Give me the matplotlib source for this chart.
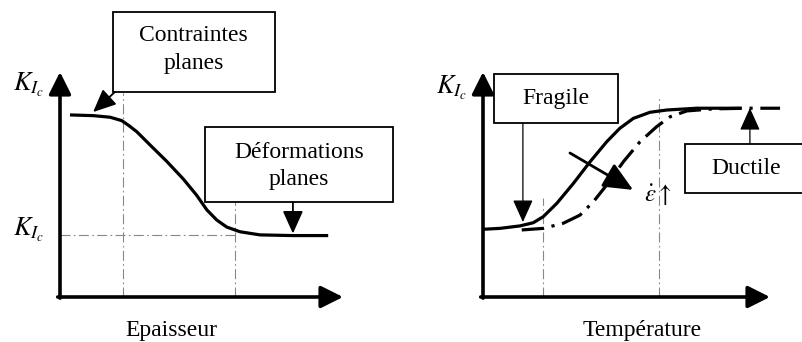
import matplotlib
matplotlib.use("Agg")
import matplotlib.pyplot as plt
from matplotlib.patches import Rectangle

plt.rcParams["font.family"] = ["Liberation Serif", "DejaVu Serif"]
plt.rcParams["mathtext.fontset"] = "stix"

# Left panel: K_Ic vs thickness (schematic, axis units 0-10)
thick_x = [0.41, 1.18, 1.77, 2.18, 2.41, 2.71, 3.18, 3.77, 4.36, 4.83, 5.19,
           5.54, 5.89, 6.36, 7.07, 8.24, 9.42]
kic_thick = [8.09, 8.06, 7.99, 7.84, 7.64, 7.35, 6.76, 6.03, 5.24, 4.52, 3.87,
             3.42, 3.11, 2.90, 2.76, 2.73, 2.73]
thick_marks = [2.23, 6.18]        # vertical guide lines
kic_plane = 2.76                  # plane-strain K_Ic level

# Right panel: K_Ic vs temperature (slow and fast strain rate)
temp_x = [0.0, 0.59, 1.29, 1.75, 2.10, 2.57, 3.15, 3.73, 4.31, 4.77, 5.24,
          5.82, 6.40, 7.45, 8.95]
kic_temp = [3.01, 3.05, 3.16, 3.30, 3.57, 4.16, 5.05, 6.01, 6.90, 7.50, 7.94,
            8.21, 8.31, 8.39, 8.39]
temp_x_fast = [1.35, 2.10, 2.80, 3.38, 3.85, 4.31, 4.89, 5.47, 6.05, 6.52,
               7.10, 8.02, 9.19, 10.35]
kic_temp_fast = [2.98, 3.05, 3.28, 3.64, 4.24, 4.98, 6.01, 6.90, 7.57, 8.01,
                 8.27, 8.36, 8.39, 8.39]
temp_marks = [2.09, 6.13]
temp_marks_top = [4.4, 8.84]

W, H = 802, 342
fig = plt.figure(figsize=(W / 100, H / 100), dpi=100)


def make_ax(x0, x1, ytop, ybot):
    ax = fig.add_axes([x0 / W, 1 - ybot / H, (x1 - x0) / W, (ybot - ytop) / H])
    ax.set_xlim(0, 10)
    ax.set_ylim(0, 10)
    ax.axis("off")
    return ax


def axes_arrows(ax):
    kw = dict(arrowstyle="-|>,head_length=0.9,head_width=0.45", lw=2.6, color="black",
              shrinkA=0, shrinkB=0, mutation_scale=15)
    ax.annotate("", xy=(10, 0), xytext=(-0.08, 0), arrowprops=kw, annotation_clip=False)
    ax.annotate("", xy=(0, 10), xytext=(0, -0.05), arrowprops=kw, annotation_clip=False)


def box(ax, x0, y0, x1, y1):
    ax.add_patch(Rectangle((x0, y0), x1 - x0, y1 - y0, facecolor="white",
                           edgecolor="black", lw=1.3, clip_on=False, zorder=3))


def pointer(ax, start, end, lw=1.0, scale=14):
    ax.annotate("", xy=end, xytext=start, annotation_clip=False, zorder=4,
                arrowprops=dict(arrowstyle="-|>,head_length=1.0,head_width=0.45",
                                lw=lw, color="black", shrinkA=0, shrinkB=0,
                                mutation_scale=scale))


guide = dict(color="#888888", lw=0.8, linestyle=(0, (9, 3, 1.5, 3)), zorder=1)
curve = dict(color="black", lw=2.3, solid_joinstyle="round", dash_joinstyle="round",
             zorder=2)
fs = 17

# ---- left panel ----
axl = make_ax(60, 343, 72, 297)
axes_arrows(axl)
axl.plot([thick_marks[0]] * 2, [0, 9.07], **guide)
axl.plot([thick_marks[1]] * 2, [0, 4.22], **guide)
axl.plot([0, thick_marks[1]], [kic_plane] * 2, **guide)
axl.plot(thick_x, kic_thick, **curve)

box(axl, 1.87, 9.11, 7.60, 12.67)
axl.text(4.73, 11.64, "Contraintes", ha="center", va="center", fontsize=fs, zorder=5)
axl.text(4.73, 10.40, "planes", ha="center", va="center", fontsize=fs, zorder=5)
pointer(axl, (1.94, 9.11), (1.17, 8.22), lw=1.3)

box(axl, 5.12, 4.22, 11.77, 7.56)
axl.text(8.45, 6.44, "Déformations", ha="center", va="center", fontsize=fs, zorder=5)
axl.text(8.45, 5.20, "planes", ha="center", va="center", fontsize=fs, zorder=5)
pointer(axl, (8.23, 4.22), (8.23, 2.82), lw=1.3)

axl.text(-1.10, 9.42, r"$K_{I_c}$", ha="center", va="center", fontsize=19)
axl.text(-1.10, 2.98, r"$K_{I_c}$", ha="center", va="center", fontsize=19)
axl.text(3.92, -1.47, "Epaisseur", ha="center", va="center", fontsize=fs)

# ---- right panel ----
axr = make_ax(483, 770, 72, 297)
axes_arrows(axr)
for xm, yt in zip(temp_marks, temp_marks_top):
    axr.plot([xm, xm], [0, yt], **guide)
axr.plot(temp_x, kic_temp, **curve)
axr.plot(temp_x_fast, kic_temp_fast, linestyle=(0, (7, 2.4, 1, 2.4)),
         clip_on=False, **curve)

box(axr, 0.38, 7.73, 4.70, 9.91)
axr.text(2.54, 8.82, "Fragile", ha="center", va="center", fontsize=fs, zorder=5)
pointer(axr, (1.39, 7.73), (1.39, 3.33), lw=0.9)

box(axr, 7.04, 4.62, 11.5, 6.80)
axr.text(9.18, 5.71, "Ductile", ha="center", va="center", fontsize=fs, zorder=5)
pointer(axr, (9.30, 6.80), (9.30, 8.40), lw=0.9)

pointer(axr, (3.03, 6.40), (5.23, 4.76), lw=2.0, scale=18)
axr.text(6.10, 4.55, r"$\dot{\varepsilon}\uparrow$", ha="center", va="center", fontsize=18)

axr.text(-1.08, 9.29, r"$K_{I_c}$", ha="center", va="center", fontsize=19)
axr.text(5.54, -1.47, "Température", ha="center", va="center", fontsize=fs)

fig.savefig("out.png", dpi=100)
